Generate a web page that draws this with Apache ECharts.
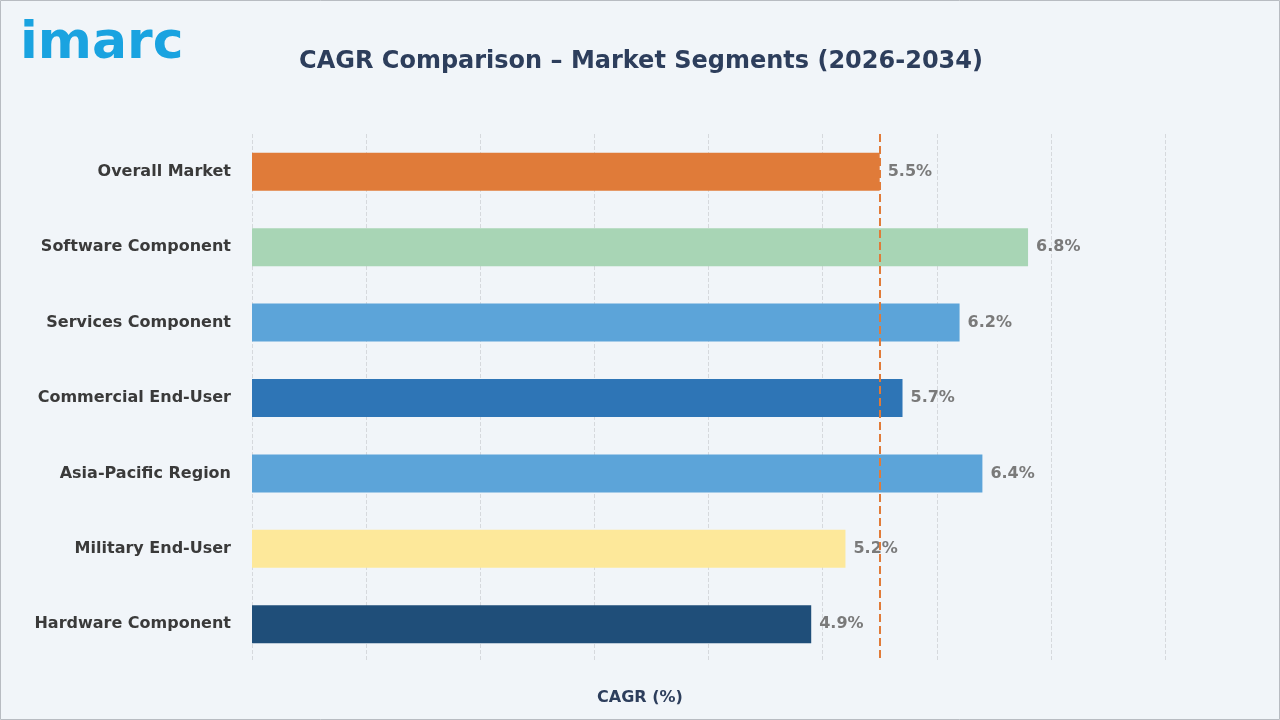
<!DOCTYPE html>
<html><head><meta charset="utf-8">
<script src="https://cdn.jsdelivr.net/npm/echarts@6/dist/echarts.min.js"></script>
<style>html,body{margin:0;padding:0;background:#fff}#c{width:1280px;height:720px}</style>
</head><body><div id="c"></div>
<script>
const categories = ["Overall Market","Software Component","Services Component","Commercial End-User","Asia-Pacific Region","Military End-User","Hardware Component"];
const values = [5.5,6.8,6.2,5.7,6.4,5.2,4.9];
const colors = ["#e07b39","#a8d5b5","#5ca4d9","#2e75b6","#5ca4d9","#fde89a","#1f4e79"];
const overall = 5.5;
const chart = echarts.init(document.getElementById('c'));
chart.setOption({
  backgroundColor: '#f1f5f9',
  graphic: [
    {type:'rect', shape:{x:0.5,y:0.5,width:1279,height:719}, style:{fill:'none',stroke:'#b8bcc2',lineWidth:1}},
    {type:'text', left:20, top:18, style:{text:'imarc', font:'bold 52px "DejaVu Sans", sans-serif', fill:'#1aa3e0'}},
    {type:'text', x:640, y:690, style:{text:'CAGR (%)', align:'center', textAlign:'center', font:'bold 16px "DejaVu Sans", sans-serif', fill:'#2d3e5c'}}
  ],
  title: {text:'CAGR Comparison – Market Segments (2026-2034)', left:636, textAlign:'center', top:45,
    textStyle:{fontFamily:'"DejaVu Sans", sans-serif', fontSize:24, fontWeight:'bold', color:'#2d3e5c'}},
  grid: {left:252, right:115, top:134, bottom:58},
  xAxis: {type:'value', min:0, max:8, interval:1, axisLabel:{show:false}, axisLine:{show:false}, axisTick:{show:false},
    splitLine:{lineStyle:{type:'dashed', color:'#d6d9dd'}}},
  yAxis: {type:'category', inverse:true, data:categories, axisLine:{show:false}, axisTick:{show:false},
    axisLabel:{fontFamily:'"DejaVu Sans", sans-serif', fontSize:16, fontWeight:'bold', color:'#3a3a3a', margin:21}},
  series: [{type:'bar', barWidth:38,
    data: values.map((v,i)=>({value:v, itemStyle:{color:colors[i]}})),
    label:{show:true, position:'right', distance:8, formatter:p=>p.value.toFixed(1)+'%',
      fontFamily:'"DejaVu Sans", sans-serif', fontSize:16, fontWeight:'bold', color:'#7a7a7a'},
    markLine:{symbol:'none', silent:true, label:{show:false},
      lineStyle:{type:'dashed', color:'#e07b39', width:2}, data:[{xAxis:overall}]}
  }]
});
</script></body></html>
